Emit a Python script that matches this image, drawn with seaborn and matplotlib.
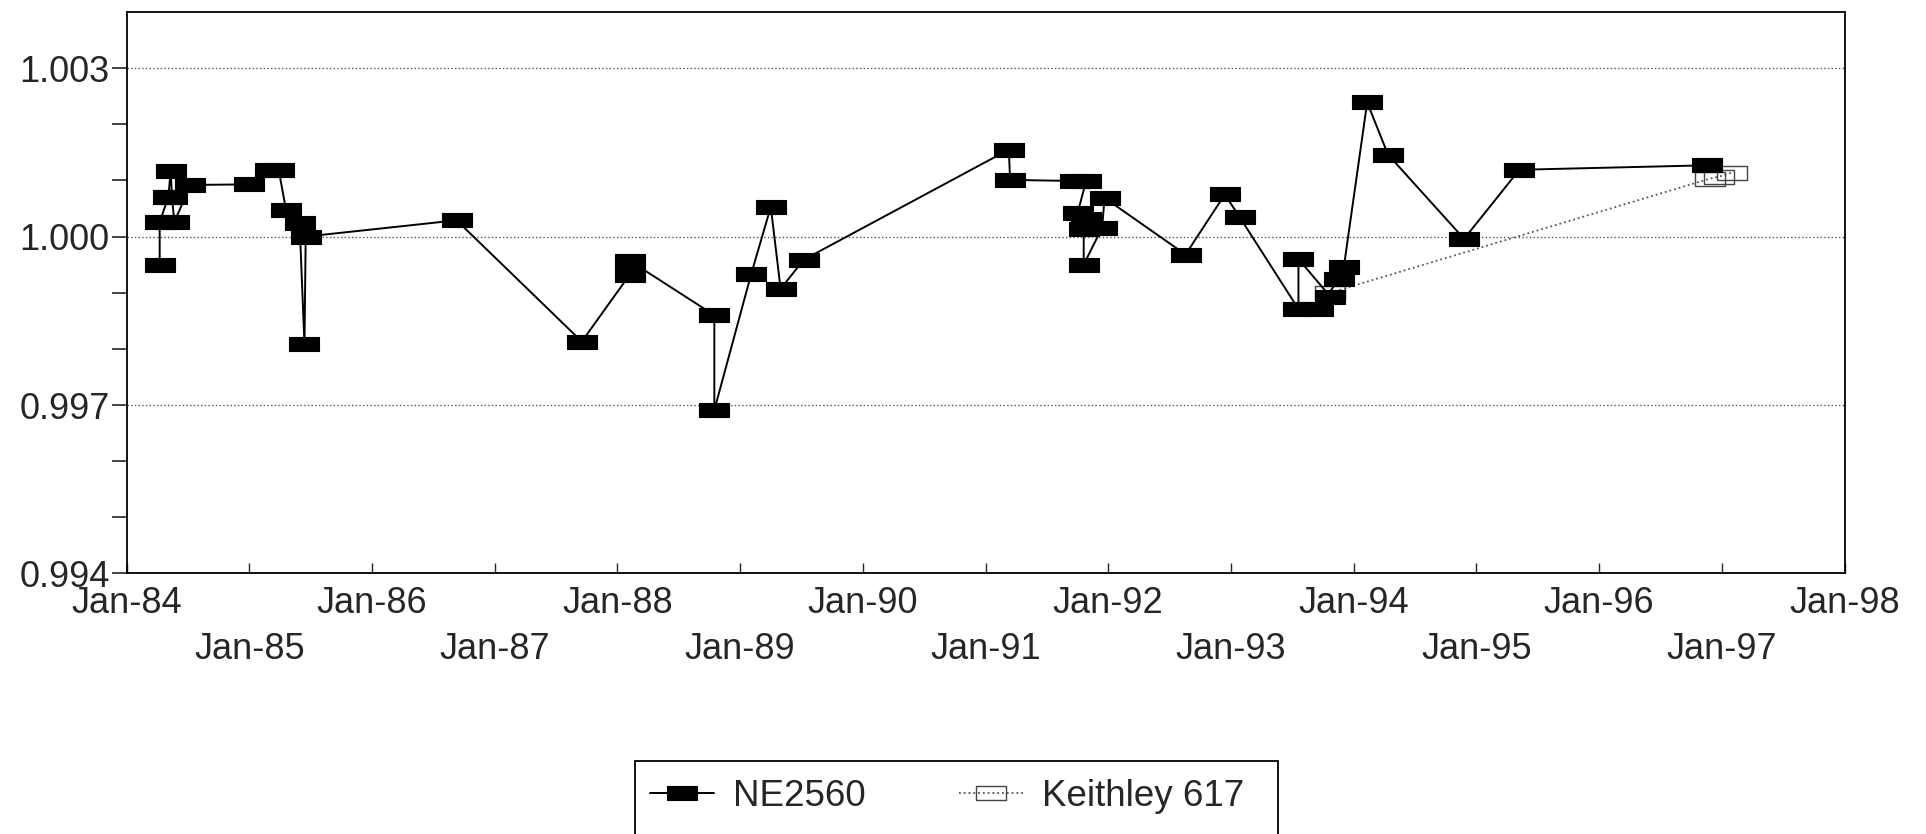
import numpy as np
import pandas as pd
import seaborn as sns
import matplotlib
matplotlib.use("Agg")
import matplotlib.pyplot as plt
from matplotlib.patches import Rectangle
from matplotlib.ticker import FixedLocator, FixedFormatter

# Data (decimal year, ratio) - kept in drawing order

ne_year = [
    1984.27, 1984.27, 1984.34, 1984.36, 1984.37, 1984.39, 1984.52,
    1985.00, 1985.17, 1985.24, 1985.30, 1985.41, 1985.45, 1985.46,
    1986.69, 1987.71, 1988.10, 1988.10, 1988.79, 1988.79,
    1989.09, 1989.25, 1989.33, 1989.52,
    1991.19, 1991.20, 1991.73, 1991.82, 1991.75, 1991.82, 1991.80, 1991.80,
    1991.95, 1991.97,
    1992.63, 1992.95, 1993.07, 1993.55, 1993.55, 1993.81, 1993.71,
    1993.88, 1993.92, 1994.11, 1994.28, 1994.90, 1995.35, 1996.88,
]
ne_value = [
    0.99950, 1.00026, 1.00070, 1.00117, 1.00070, 1.00026, 1.00092,
    1.00093, 1.00119, 1.00119, 1.00047, 1.00025, 0.99808, 1.00000,
    1.00029, 0.99813, 0.99932, 0.99957, 0.99860, 0.99691,
    0.99933, 1.00053, 0.99907, 0.99959,
    1.00155, 1.00101, 1.00099, 1.00099, 1.00042, 1.00032, 1.00014, 0.99950,
    1.00016, 1.00069,
    0.99968, 1.00075, 1.00035, 0.99871, 0.99960, 0.99893, 0.99871,
    0.99925, 0.99946, 1.00239, 1.00146, 0.99996, 1.00119, 1.00127,
]

keithley_year = [1993.81, 1996.90, 1996.98, 1997.08]
keithley_value = [0.99900, 1.00103, 1.00107, 1.00114]

series_labels = ["NE2560", "Keithley 617"]

even_years = [1984, 1986, 1988, 1990, 1992, 1994, 1996, 1998]
even_labels = ["Jan-84", "Jan-86", "Jan-88", "Jan-90", "Jan-92", "Jan-94", "Jan-96", "Jan-98"]
odd_years = [1985, 1987, 1989, 1991, 1993, 1995, 1997]
odd_labels = ["Jan-85", "Jan-87", "Jan-89", "Jan-91", "Jan-93", "Jan-95", "Jan-97"]

y_ticks = [0.994, 0.997, 1.000, 1.003]
y_labels = ["0.994", "0.997", "1.000", "1.003"]
y_minor = [0.995, 0.996, 0.998, 0.999, 1.001, 1.002]

# Style

sns.set_style("white")
plt.rcParams["font.family"] = ["Liberation Sans", "DejaVu Sans"]
plt.rcParams["font.size"] = 26

# wide flat box marker, like the old spreadsheet chart
rect = [(-1, -0.5), (1, -0.5), (1, 0.5), (-1, 0.5), (-1, -0.5)]

ne = pd.DataFrame({"year": ne_year, "value": ne_value})
kt = pd.DataFrame({"year": keithley_year, "value": keithley_value})

fig = plt.figure(figsize=(19.26, 8.34), dpi=100)
ax = fig.add_axes([0.0657, 0.3124, 0.8920, 0.6732])

sns.lineplot(data=kt, x="year", y="value", sort=False, estimator=None,
             color="#555555", lw=1.3, linestyle=":", marker=rect, markersize=21,
             markerfacecolor="none", markeredgecolor="#444444", markeredgewidth=1.0,
             legend=False, ax=ax)
sns.lineplot(data=ne, x="year", y="value", sort=False, estimator=None,
             color="black", lw=1.4, marker=rect, markersize=21,
             markerfacecolor="black", markeredgecolor="black", markeredgewidth=0.8,
             legend=False, ax=ax)

ax.set_xlim(1984, 1998)
ax.set_ylim(0.994, 1.004)
ax.set_xlabel("")
ax.set_ylabel("")

# x: even years on first row, odd years on second row
ax.xaxis.set_major_locator(FixedLocator(even_years))
ax.xaxis.set_major_formatter(FixedFormatter(even_labels))
ax.xaxis.set_minor_locator(FixedLocator(odd_years))
ax.xaxis.set_minor_formatter(FixedFormatter(odd_labels))
ax.tick_params(axis="x", which="major", direction="in", length=7, width=1, pad=9, labelsize=26)
ax.tick_params(axis="x", which="minor", direction="in", length=7, width=1, pad=42, labelsize=26)

ax.yaxis.set_major_locator(FixedLocator(y_ticks))
ax.yaxis.set_major_formatter(FixedFormatter(y_labels))
ax.yaxis.set_minor_locator(FixedLocator(y_minor))
ax.tick_params(axis="y", which="both", direction="out", length=11, width=1.2, pad=1, labelsize=26)
ax.tick_params(bottom=True, left=True, which="both")

ax.yaxis.grid(True, which="major", linestyle=":", color="#555555", linewidth=1.0)
ax.xaxis.grid(False)

for side in ["left", "bottom", "top", "right"]:
    ax.spines[side].set_visible(True)
    ax.spines[side].set_color("black")
    ax.spines[side].set_linewidth(1.3)

# legend box runs off the bottom of the page in the original scan
fig.patches.append(Rectangle((635 / 1926, -0.05), (1278 - 635) / 1926, 0.05 + 1 - 761 / 834,
                             transform=fig.transFigure, fill=False, edgecolor="black", lw=1.3))

handles = [ax.lines[1], ax.lines[0]]
leg = fig.legend(handles, series_labels, loc="center left",
                 bbox_to_anchor=(650 / 1926, 1 - 796 / 834), ncol=2,
                 frameon=False, fontsize=26.5,
                 handlelength=1.75, handletextpad=0.5, columnspacing=2.55,
                 borderpad=0, borderaxespad=0)

fig.savefig("out.png", dpi=100)
